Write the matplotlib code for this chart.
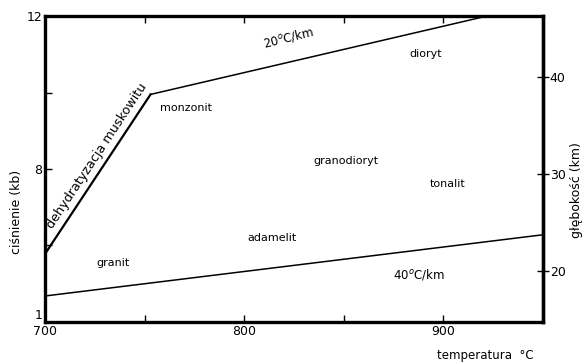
import matplotlib
matplotlib.use("Agg")
import matplotlib.pyplot as plt
import numpy as np

# Data (temperature in C, pressure in kb)
muscovite_T = [700, 753]
muscovite_P = [5.78, 9.95]
grad20_T = [753, 922]
grad20_P = [9.95, 12.0]
grad40_T = [700, 950]
grad40_P = [4.68, 6.28]

rock_names = ["monzonit", "dioryt", "granodioryt", "tonalit", "adamelit", "granit"]
rock_T = [771, 891, 851, 902, 814, 734]
rock_P = [9.6, 11.0, 8.2, 7.6, 6.2, 5.55]

x_ticks = [700, 750, 800, 850, 900]
x_labels = ["700", "", "800", "", "900"]
y_ticks = [4, 6, 8, 10, 12]
y_labels = ["1", "", "8", "", "12"]
depth_ticks = [20, 30, 40]

# pressure <-> depth
KM_PER_KB = 3.93
KM_OFFSET = -0.93


def p2d(p):
    return KM_PER_KB * np.asarray(p) + KM_OFFSET


def d2p(d):
    return (np.asarray(d) - KM_OFFSET) / KM_PER_KB


fig = plt.figure(figsize=(5.87, 3.64), dpi=100)
ax = fig.add_axes([0.0767, 0.1154, 0.848, 0.8406])
ax.set_xlim(700, 950)
ax.set_ylim(4, 12)

ax.plot(muscovite_T, muscovite_P, color="black", lw=1.6)
ax.plot(grad20_T, grad20_P, color="black", lw=1.1)
ax.plot(grad40_T, grad40_P, color="black", lw=1.1)

for name, t, p in zip(rock_names, rock_T, rock_P):
    ax.text(t, p, name, fontsize=8, ha="center", va="center")

ax.text(726.3, 8.33, "dehydratyzacja muskowitu", fontsize=9.2, rotation=56.5,
        ha="center", va="center", rotation_mode="anchor")
ax.text(822, 11.45, "20$^{o}$C/km", fontsize=8.5, rotation=14,
        ha="center", va="center", rotation_mode="anchor")
ax.text(888, 5.25, "40$^{o}$C/km", fontsize=8.5, ha="center", va="center")

for s in ax.spines.values():
    s.set_linewidth(2.4)

ax.set_xticks(x_ticks)
ax.set_xticklabels(x_labels)
ax.set_yticks(y_ticks)
ax.set_yticklabels(y_labels)
ax.tick_params(direction="in", length=5, width=1, labelsize=9, pad=2,
               top=True)
ax.get_yticklabels()[0].set_va("bottom")
ax.set_ylabel("ciśnienie (kb)", fontsize=9)
ax.yaxis.set_label_coords(-0.045, 0.36)

sec = ax.secondary_yaxis("right", functions=(p2d, d2p))
sec.set_yticks(depth_ticks)
sec.tick_params(direction="inout", length=8, width=1, labelsize=9, pad=1)
sec.spines["right"].set_linewidth(2.4)

fig.text(0.982, 0.478, "głębokość (km)", fontsize=9, rotation=90,
         ha="center", va="center")
fig.text(0.827, 0.015, "temperatura  °C", fontsize=8.5, ha="center")

fig.savefig("out.png", dpi=100)
